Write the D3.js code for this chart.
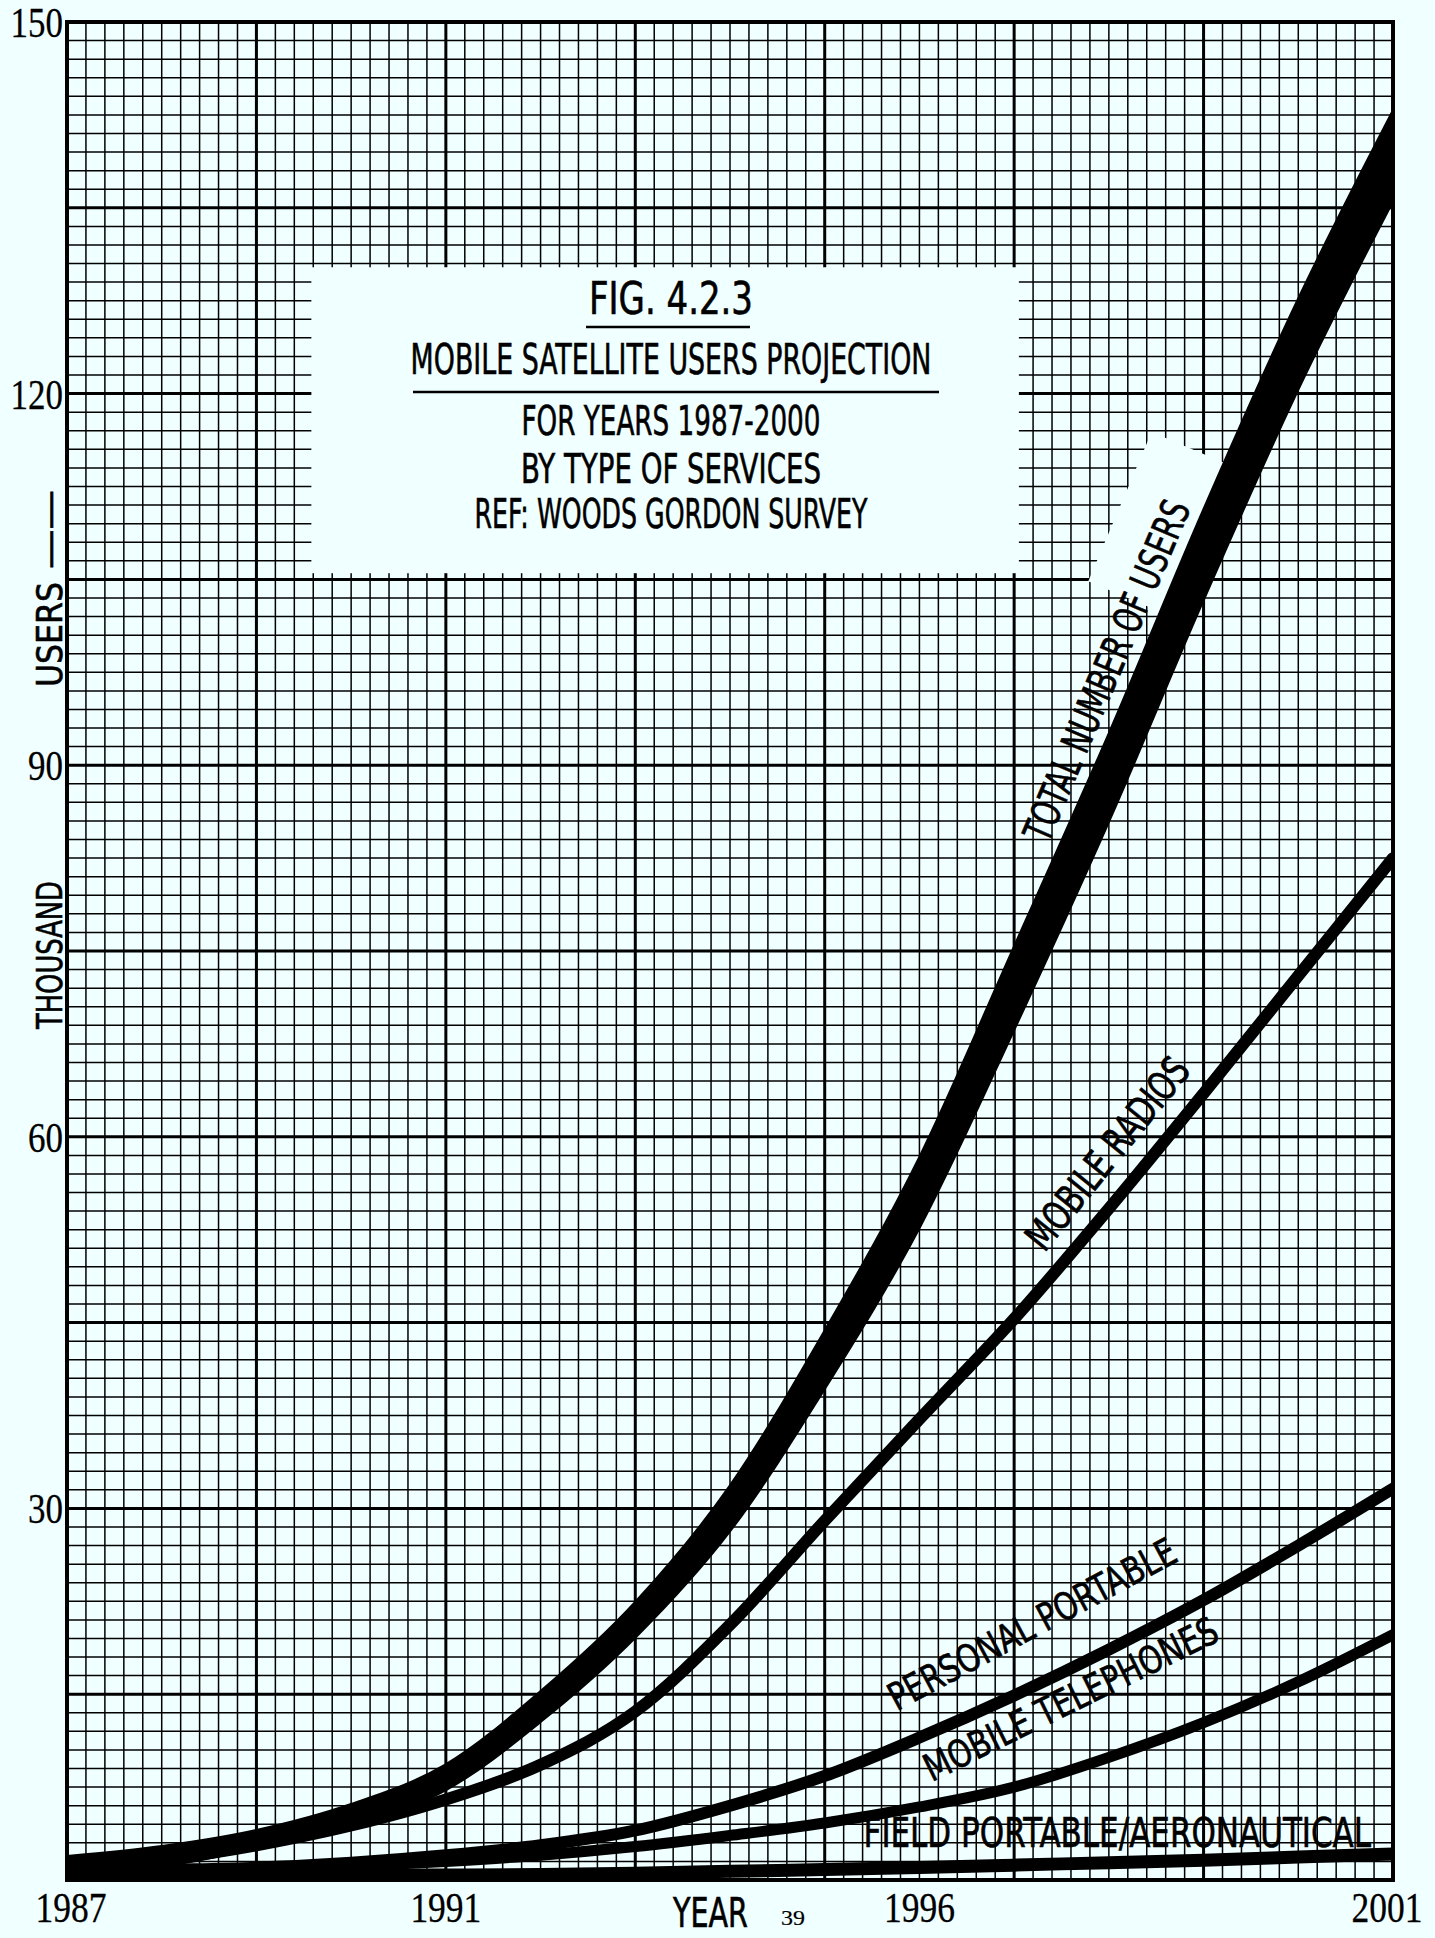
<!DOCTYPE html>
<html>
<head>
<meta charset="utf-8">
<script src="https://cdn.jsdelivr.net/npm/d3@7"></script>
<style>
  html, body { margin: 0; padding: 0; background: #f0ffff; }
  svg { display: block; }
</style>
</head>
<body>
<svg id="chart" width="1435" height="1938"></svg>
<script>
// Mobile satellite users projection, thousands of users per year
const years = d3.range(1987, 2002);
// the total is drawn as a broad band: lower and upper edge
const totalLow  = [0.3, 1.1, 2.6, 4.5, 7.3, 12.8, 19.6, 28.2, 39.7, 52.7, 68.7, 85.5, 103.4, 120.4, 135.6];
const totalHigh = [1.9, 2.7, 4.0, 6.1, 9.3, 15.2, 22.4, 31.8, 44.3, 58.3, 75.3, 92.5, 110.6, 127.6, 142.8];
const mobileRadios     = [0.7, 1.6, 2.8, 4.4, 6.5, 9.3, 13.6, 20.6, 29.0, 37.2, 45.3, 54.2, 63.5, 73.0, 82.5];
const personalPortable = [0.6, 0.8, 1.0, 1.4, 2.0, 2.8, 4.0, 6.0, 8.4, 11.5, 14.9, 18.6, 22.6, 27.0, 31.6];
const mobileTelephones = [0.5, 0.6, 0.8, 1.1, 1.5, 2.0, 2.7, 3.6, 4.6, 5.9, 7.5, 9.9, 12.7, 16.0, 19.8];
const fieldPortable    = [0.5, 0.45, 0.4, 0.4, 0.4, 0.45, 0.55, 0.7, 0.85, 1.0, 1.2, 1.4, 1.6, 1.85, 2.1];

const xTickLabels = [1987, 1991, 1996, 2001];
const yTickLabels = [30, 60, 90, 120, 150];

const titleLines = [
  "FIG. 4.2.3",
  "MOBILE SATELLITE USERS PROJECTION",
  "FOR YEARS 1987-2000",
  "BY TYPE OF SERVICES",
  "REF:  WOODS GORDON SURVEY"
];

const W = 1435, H = 1938;
const margin = { top: 22, right: 42, bottom: 58, left: 67 };
const bg = "#f0ffff";
const ink = "#000";
const letterFont = "'Liberation Sans Narrow', 'DejaVu Sans Condensed', 'DejaVu Sans', sans-serif";
const numberFont = "'Liberation Serif', 'DejaVu Serif', serif";

const svg = d3.select("#chart");

const x = d3.scaleLinear().domain([1987, 2001]).range([margin.left, W - margin.right]);
const y = d3.scaleLinear().domain([0, 150]).range([H - margin.bottom, margin.top]);

svg.append("rect").attr("width", W).attr("height", H).attr("fill", bg);

// text squeezed to a given width (measured, then scaled)
function fitText(parent, str, len, size, family, anchor) {
  const t = parent.append("text")
    .attr("text-anchor", anchor || "start")
    .style("font-family", family)
    .style("font-size", size + "px")
    .style("fill", ink)
    .style("stroke", ink)
    .style("stroke-width", 0.6)
    .text(str);
  const w = t.node().getComputedTextLength();
  t.attr("transform", `scale(${len / w},1)`);
  return t;
}

// graph paper: 5 minor cells per year, 10 per 15 thousand
const grid = svg.append("g");
const xMinor = d3.range(0, 71).map(i => 1987 + i * 0.2);
const yMinor = d3.range(0, 101).map(i => i * 1.5);

grid.selectAll(".gx")
  .data(xMinor)
  .enter()
  .append("line")
  .attr("x1", d => x(d))
  .attr("x2", d => x(d))
  .attr("y1", y(150))
  .attr("y2", y(0))
  .attr("stroke", ink)
  .attr("stroke-width", (d, i) => i % 10 === 0 ? 3 : 1.5);

grid.selectAll(".gy")
  .data(yMinor)
  .enter()
  .append("line")
  .attr("x1", x(1987))
  .attr("x2", x(2001))
  .attr("y1", d => y(d))
  .attr("y2", d => y(d))
  .attr("stroke", ink)
  .attr("stroke-width", (d, i) => i % 10 === 0 ? 3 : 1.5);

// title box pasted over the grid
const box = { x0: 1989.58, x1: 1997.05, y0: 130.2, y1: 105.5 };
svg.append("rect")
  .attr("x", x(box.x0))
  .attr("y", y(box.y0))
  .attr("width", x(box.x1) - x(box.x0))
  .attr("height", y(box.y1) - y(box.y0))
  .attr("fill", bg);

const titleLayout = [
  { base: 314, len: 164, size: 44 },
  { base: 374, len: 521, size: 42 },
  { base: 435, len: 299, size: 40 },
  { base: 483, len: 300, size: 40 },
  { base: 528, len: 393, size: 40 }
];
const titleCx = 671;
titleLines.forEach((t, i) => {
  const g = svg.append("g").attr("transform", `translate(${titleCx},${titleLayout[i].base})`);
  fitText(g, t, titleLayout[i].len, titleLayout[i].size, letterFont, "middle");
});
// underlines
svg.append("line").attr("x1", 586).attr("x2", 750).attr("y1", 327).attr("y2", 327)
  .attr("stroke", ink).attr("stroke-width", 2.5);
svg.append("line").attr("x1", 413).attr("x2", 939).attr("y1", 392).attr("y2", 392)
  .attr("stroke", ink).attr("stroke-width", 2.5);

// slanted label: start / end of the baseline given in data units
function slantLabel(text, a, b, size, patch) {
  const px0 = x(a[0]), py0 = y(a[1]), px1 = x(b[0]), py1 = y(b[1]);
  const ang = Math.atan2(py1 - py0, px1 - px0) * 180 / Math.PI;
  const len = Math.hypot(px1 - px0, py1 - py0);
  const g = svg.append("g").attr("transform", `translate(${px0},${py0}) rotate(${ang})`);
  if (patch) {
    g.append("rect")
      .attr("x", patch[0]).attr("y", patch[2])
      .attr("width", patch[1] - patch[0]).attr("height", patch[3] - patch[2])
      .attr("fill", bg);
  }
  return fitText(g, text, len, size, letterFont);
}

// clip marks to the plot area
svg.append("clipPath").attr("id", "plot-clip")
  .append("rect")
  .attr("x", x(1987)).attr("y", y(150))
  .attr("width", x(2001) - x(1987))
  .attr("height", y(0) - y(150) + 4);

slantLabel("TOTAL NUMBER OF USERS", [1997.36, 83.6], [1998.87, 110.8], 40, [258, 420, -66, 14]);

const plot = svg.append("g").attr("clip-path", "url(#plot-clip)");

const lineGen = d3.line()
  .x((d, i) => x(years[i]))
  .y(d => y(d))
  .curve(d3.curveMonotoneX);

const series = [
  { values: fieldPortable, w: 13 },
  { values: mobileTelephones, w: 11 },
  { values: personalPortable, w: 12 },
  { values: mobileRadios, w: 12 }
];
plot.selectAll(".series")
  .data(series)
  .enter()
  .append("path")
  .attr("d", d => lineGen(d.values))
  .attr("fill", "none")
  .attr("stroke", ink)
  .attr("stroke-width", d => d.w)
  .attr("stroke-linecap", "round");

const band = d3.area()
  .x((d, i) => x(years[i]))
  .y0((d, i) => y(totalLow[i]))
  .y1((d, i) => y(totalHigh[i]))
  .curve(d3.curveMonotoneX);

plot.append("path")
  .attr("d", band(years))
  .attr("fill", ink)
  .attr("stroke", ink)
  .attr("stroke-width", 3);

// curve labels
slantLabel("MOBILE RADIOS", [1997.32, 50.6], [1998.88, 65.3], 40);
slantLabel("PERSONAL PORTABLE", [1995.76, 13.6], [1998.75, 25.8], 38);
slantLabel("MOBILE TELEPHONES", [1996.13, 7.9], [1999.19, 19.4], 38);
slantLabel("FIELD PORTABLE/AERONAUTICAL", [1995.41, 2.66], [2000.77, 2.66], 41);

// plot frame
svg.append("rect")
  .attr("x", x(1987))
  .attr("y", y(150))
  .attr("width", x(2001) - x(1987))
  .attr("height", y(0) - y(150))
  .attr("fill", "none")
  .attr("stroke", ink)
  .attr("stroke-width", 4);

// y tick labels
yTickLabels.forEach(d => {
  const g = svg.append("g").attr("transform", `translate(${x(1987) - 4},${y(d) + 15})`);
  fitText(g, String(d), String(d).length * 17.5, 43, numberFont, "end").style("stroke-width", 0.3);
});

// x tick labels
xTickLabels.forEach(d => {
  const cx = Math.max(Math.min(x(d), x(2001) - 6), x(1987) + 4);
  const g = svg.append("g").attr("transform", `translate(${cx},1922)`);
  fitText(g, String(d), 71, 43, numberFont, "middle").style("stroke-width", 0.3);
});

// axis titles
fitText(svg.append("g").attr("transform", "translate(673,1927)"), "YEAR", 75, 40, letterFont);
fitText(svg.append("g").attr("transform", "translate(781,1925)"), "39", 24, 22, numberFont).style("stroke-width", 0.2);

const yTitle = [
  { text: "THOUSAND", start: 1029, len: 148 },
  { text: "USERS", start: 687, len: 105 },
  { text: "\u2014\u2014", start: 569, len: 79 }
];
yTitle.forEach(d => {
  const g = svg.append("g").attr("transform", `translate(62,${d.start}) rotate(-90)`);
  fitText(g, d.text, d.len, 36, letterFont);
});
</script>
</body>
</html>
